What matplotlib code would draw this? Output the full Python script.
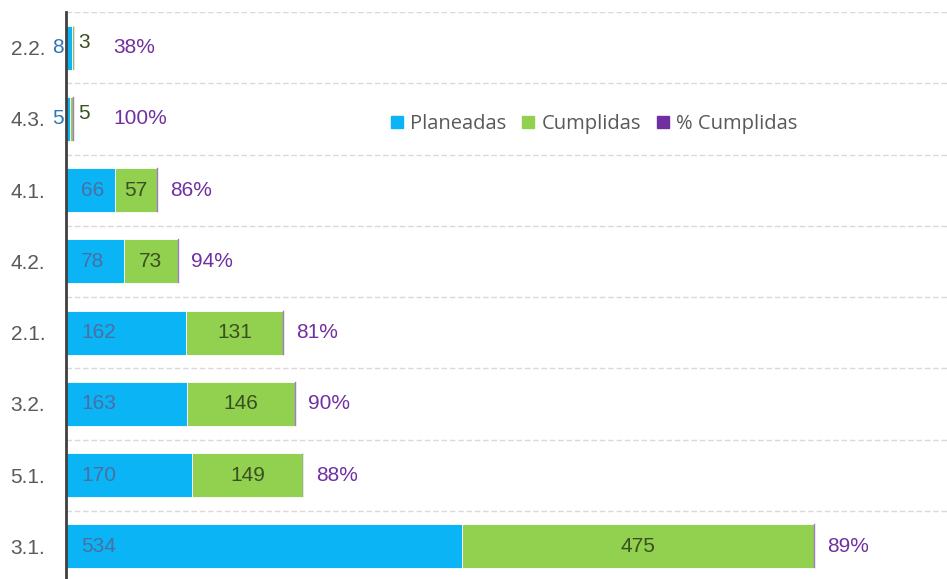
import matplotlib
matplotlib.use("Agg")
import matplotlib.pyplot as plt
import numpy as np
from matplotlib.patches import Patch

categories = ["2.2.", "4.3.", "4.1.", "4.2.", "2.1.", "3.2.", "5.1.", "3.1."]
planeadas = [8, 5, 66, 78, 162, 163, 170, 534]
cumplidas = [3, 5, 57, 73, 131, 146, 149, 475]
pct = [0.38, 1.00, 0.86, 0.94, 0.81, 0.90, 0.88, 0.89]
pct_labels = ["38%", "100%", "86%", "94%", "81%", "90%", "88%", "89%"]

C_PLAN = "#0AB4F5"
C_CUMP = "#92D050"
C_PCT = "#7030A0"

narrow = ["Liberation Sans Narrow", "Liberation Sans", "DejaVu Sans"]
FS = 15

fig = plt.figure(figsize=(9.47, 5.79), dpi=100)
W, H = 947, 579
ax = fig.add_axes([66 / W, (579 - 582) / H, (947 - 66) / W, 570 / H])

n = len(categories)
y = np.arange(n)
bh = 0.62
plan = np.array(planeadas, float)
cump = np.array(cumplidas, float)
pc = np.array(pct, float)

ax.barh(y, plan, height=bh, color=C_PLAN, edgecolor="white", linewidth=0.6, zorder=3)
ax.barh(y, cump, left=plan, height=bh, color=C_CUMP, edgecolor="white", linewidth=0.6, zorder=3)
ax.barh(y, pc, left=plan + cump, height=bh, color="#A27CC4", edgecolor="#A27CC4", linewidth=0.3, zorder=3)

ax.set_ylim(n - 0.5, -0.5)
ax.set_xlim(0, 881 / (396 / 534))

for i in range(n):
    small = plan[i] < 20
    end = plan[i] + cump[i] + pc[i]
    if small:
        ax.annotate(str(planeadas[i]), (0, y[i]), xytext=(-1.5, 0), textcoords="offset points",
                    ha="right", va="center", fontsize=FS, color="#2E75B6", family=narrow, zorder=5)
        ax.annotate(str(cumplidas[i]), (end, y[i]), xytext=(3, 4), textcoords="offset points",
                    ha="left", va="center", fontsize=FS, color="#3A4F22", family=narrow, zorder=5)
        ax.annotate(pct_labels[i], (end, y[i]), xytext=(28, 0), textcoords="offset points",
                    ha="left", va="center", fontsize=FS, color=C_PCT, family=narrow, zorder=5)
    else:
        ax.annotate(str(planeadas[i]), (0, y[i]), xytext=(11, 0), textcoords="offset points",
                    ha="left", va="center", fontsize=FS, color="#4A6FA5", family=narrow, zorder=5)
        ax.text(plan[i] + cump[i] / 2, y[i], str(cumplidas[i]), ha="center", va="center",
                fontsize=FS, color="#3A4F22", family=narrow, zorder=5)
        ax.annotate(pct_labels[i], (end, y[i]), xytext=(9, 0), textcoords="offset points",
                    ha="left", va="center", fontsize=FS, color=C_PCT, family=narrow, zorder=5)

# grid lines at category boundaries
for b in np.arange(-0.5, n, 1.0):
    ax.axhline(b, color="#D9D9D9", linestyle=(0, (4, 2)), linewidth=1.0, zorder=1)

ax.set_yticks(y)
ax.set_yticklabels(categories, fontsize=FS, color="#595959", family=narrow)
ax.tick_params(axis="y", length=0, pad=15)
ax.set_xticks([])
for s in ["top", "right", "bottom"]:
    ax.spines[s].set_visible(False)
ax.spines["left"].set_color("#404040")
ax.spines["left"].set_linewidth(2.0)
ax.spines["left"].set_zorder(6)

handles = [Patch(color=C_PLAN), Patch(color=C_CUMP), Patch(color=C_PCT)]
leg = fig.legend(handles, ["Planeadas", "Cumplidas", "% Cumplidas"], loc="center",
                 bbox_to_anchor=(594 / W, 1 - 124 / H), ncol=3, frameon=False,
                 prop={"family": ["Open Sans", "DejaVu Sans"], "size": 14.5},
                 handlelength=0.6, handleheight=0.6, handletextpad=0.35, columnspacing=0.8)
for t in leg.get_texts():
    t.set_color("#595959")

fig.savefig("out.png", dpi=100)
